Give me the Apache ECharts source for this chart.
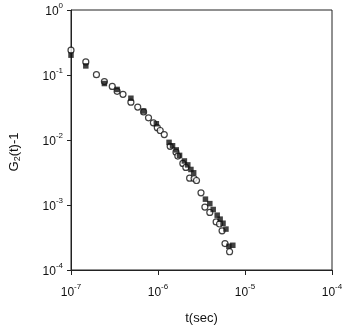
<!DOCTYPE html>
<html>
<head>
<meta charset="utf-8">
<script src="https://cdn.jsdelivr.net/npm/echarts@6/dist/echarts.min.js"></script>
<style>
  html, body { margin: 0; padding: 0; background: #fff; }
  #chart { width: 346px; height: 330px; }
</style>
</head>
<body>
<div id="chart"></div>
<script>
// open circles
const circleT = [1.0e-7, 1.48e-7, 1.96e-7, 2.42e-7, 2.98e-7, 3.39e-7, 3.96e-7, 4.88e-7, 5.85e-7, 6.83e-7,
  7.78e-7, 8.85e-7, 9.82e-7, 1.06e-6, 1.18e-6, 1.38e-6, 1.61e-6, 1.69e-6, 1.93e-6, 2.09e-6,
  2.31e-6, 2.60e-6, 2.77e-6, 3.12e-6, 3.46e-6, 3.94e-6, 4.66e-6, 5.10e-6, 5.45e-6, 5.89e-6, 6.65e-6];
const circleG = [0.241, 0.159, 0.101, 0.0792, 0.0667, 0.0560, 0.0504, 0.0382, 0.0321, 0.0270,
  0.0219, 0.0184, 0.0155, 0.0140, 0.0121, 0.0080, 0.0065, 0.00566, 0.00436, 0.00379,
  0.00259, 0.00255, 0.00238, 0.00154, 0.00093, 0.00077, 0.00055, 0.00051, 0.00040, 0.000255, 0.000191];

// filled squares
const squareT = [1.0e-7, 1.48e-7, 2.42e-7, 3.39e-7, 4.88e-7, 6.83e-7, 9.57e-7, 1.34e-6, 1.47e-6, 1.62e-6,
  1.77e-6, 2.01e-6, 2.20e-6, 2.39e-6, 2.57e-6, 3.51e-6, 3.94e-6, 4.31e-6, 4.79e-6, 5.18e-6,
  5.59e-6, 6.04e-6, 6.53e-6, 7.24e-6];
const squareG = [0.202, 0.138, 0.0739, 0.0600, 0.0439, 0.0279, 0.0178, 0.0092, 0.00815, 0.00704,
  0.00580, 0.00476, 0.00414, 0.00352, 0.00313, 0.00123, 0.00105, 0.000853, 0.000697, 0.000606,
  0.000524, 0.000426, 0.000232, 0.000240];

const xExps = [-7, -6, -5, -4];
const yExps = [0, -1, -2, -3, -4];

let chart = echarts.init(document.getElementById('chart'));

const pairs = (xs, ys) => xs.map((x, i) => [x, ys[i]]);
const powLabel = (exps) => (v) => {
  let e = Math.round(Math.log10(v));
  return exps.indexOf(e) >= 0 ? '{b|10}{s|' + e + '}' : '';
};
const richPow = {
  b: { fontSize: 12, fontFamily: 'Liberation Sans', color: '#111', verticalAlign: 'bottom', lineHeight: 16 },
  s: { fontSize: 8, fontFamily: 'Liberation Sans', color: '#111', verticalAlign: 'top', lineHeight: 16 }
};
const axisLine = { lineStyle: { color: '#222', width: 1 } };

chart.setOption({
  animation: false,
  grid: { left: 66, right: 14, top: 10, bottom: 55, show: true, borderColor: '#222', borderWidth: 1 },
  xAxis: {
    type: 'log', logBase: 10, min: 1e-7, max: 1e-4,
    name: 't(sec)', nameLocation: 'middle', nameGap: 42,
    nameTextStyle: { fontSize: 13, fontFamily: 'Liberation Sans', color: '#111' },
    axisLine: axisLine,
    axisTick: { show: true, inside: false, length: 5, lineStyle: { color: '#222' } },
    minorTick: { show: false },
    splitLine: { show: false },
    axisLabel: { margin: 13, formatter: powLabel(xExps), rich: richPow }
  },
  yAxis: {
    type: 'log', logBase: 10, min: 1e-4, max: 1,
    name: '{n|G}{sub|2}{n|(t)-1}', nameLocation: 'middle', nameGap: 49,
    nameTextStyle: {
      padding: [0, 24, 0, 0],
      rich: {
        n: { fontSize: 13, fontFamily: 'Liberation Sans', color: '#111' },
        sub: { fontSize: 9, fontFamily: 'Liberation Sans', color: '#111', padding: [6, 0, 0, 0] }
      }
    },
    axisLine: axisLine,
    axisTick: { show: true, inside: false, length: 4, lineStyle: { color: '#222' } },
    minorTick: { show: false },
    splitLine: { show: false },
    axisLabel: { margin: 8, formatter: powLabel(yExps), rich: richPow }
  },
  series: [
    {
      name: 'open',
      type: 'scatter',
      symbol: 'circle',
      symbolSize: 6,
      itemStyle: { color: '#fff', borderColor: '#111', borderWidth: 1.2 },
      data: pairs(circleT, circleG)
    },
    {
      name: 'filled',
      type: 'scatter',
      symbol: 'rect',
      symbolSize: 5.5,
      itemStyle: { color: '#111' },
      data: pairs(squareT, squareG)
    }
  ]
});
</script>
</body>
</html>
